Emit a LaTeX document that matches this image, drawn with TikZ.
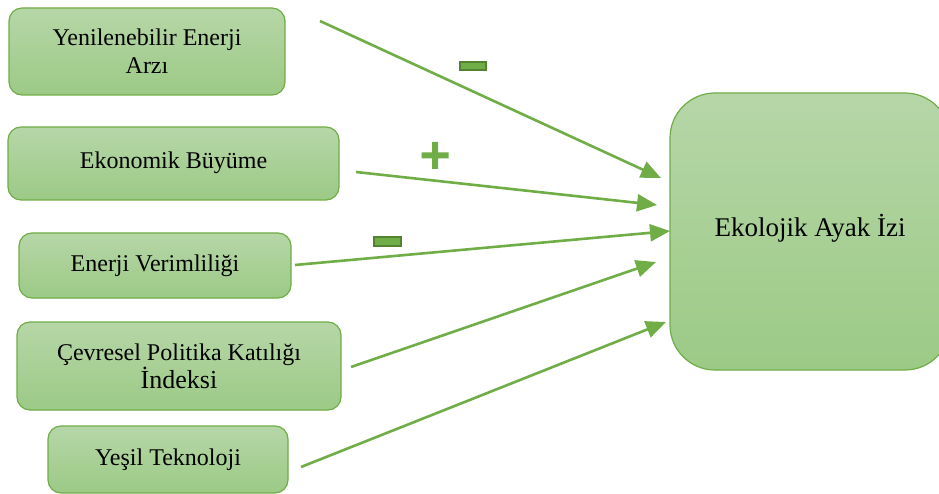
\documentclass[tikz,border=0pt]{standalone}
\usepackage{fontspec}
\setmainfont{Liberation Serif}
\usetikzlibrary{arrows.meta}
\definecolor{leafline}{HTML}{70AD47}
\definecolor{leaftop}{HTML}{B6D6A7}
\definecolor{leafbot}{HTML}{9CCA86}
\definecolor{leafdark}{HTML}{548235}
\tikzset{
  factor/.style={draw=leafline, line width=1.2pt, rounded corners=13pt,
    top color=leaftop, bottom color=leafbot, align=center, inner sep=0pt,
    font=\fontsize{24}{28}\selectfont},
  link/.style={leafline, line width=2.6pt, -{Triangle[length=20pt,width=17pt]}},
  signbar/.style={fill=leafline, draw=leafdark, line width=1.4pt}
}
\begin{document}
\begin{tikzpicture}[x=1pt,y=-1pt]
  \useasboundingbox (0,0) rectangle (939,494);
  % left-hand factors
  \node[factor, minimum width=276pt, minimum height=87pt] (arz) at (147,51.5)
    {\raisebox{-3pt}{Yenilenebilir Enerji}\\\raisebox{-3pt}{Arzı}};
  \node[factor, minimum width=331pt, minimum height=73pt] (buyume) at (173.5,163.5)
    {\raisebox{6pt}{Ekonomik Büyüme}};
  \node[factor, minimum width=272pt, minimum height=65pt] (verim) at (155,265.5)
    {\raisebox{3pt}{Enerji Verimliliği}};
  \node[factor, minimum width=324pt, minimum height=88pt] (politika) at (179,366)
    {Çevresel Politika Katılığı\\{\fontsize{26}{28}\selectfont İndeksi}};
  \node[factor, minimum width=240pt, minimum height=67pt] (teknoloji) at (168,459.5)
    {\raisebox{4pt}{Yeşil Teknoloji}};
  % outcome
  \node[factor, rounded corners=45pt, minimum width=280pt, minimum height=277pt,
    font=\fontsize{27}{30}\selectfont] (ayak) at (810,231.5)
    {\raisebox{13pt}{Ekolojik Ayak İzi}};
  % connectors
  \foreach \n/\sx/\sy/\tx/\ty in {arz/320/21/661/178, buyume/356/172/657/205,
      verim/295/265/670/231, politika/351/367/656/262, teknoloji/301/467/666/322} {
    \coordinate (\n-out) at (\sx,\sy);
    \coordinate (\n-in) at (\tx,\ty);
    \draw[link] (\n-out) -- (\n-in);
  }
  % signs
  \draw[signbar] (460,62) rectangle (486,70);
  \fill[leafline] (432,142) rectangle (438,169) (421.5,152.5) rectangle (448.5,158.5);
  \draw[signbar] (374,237) rectangle (401,246);
\end{tikzpicture}
\end{document}
